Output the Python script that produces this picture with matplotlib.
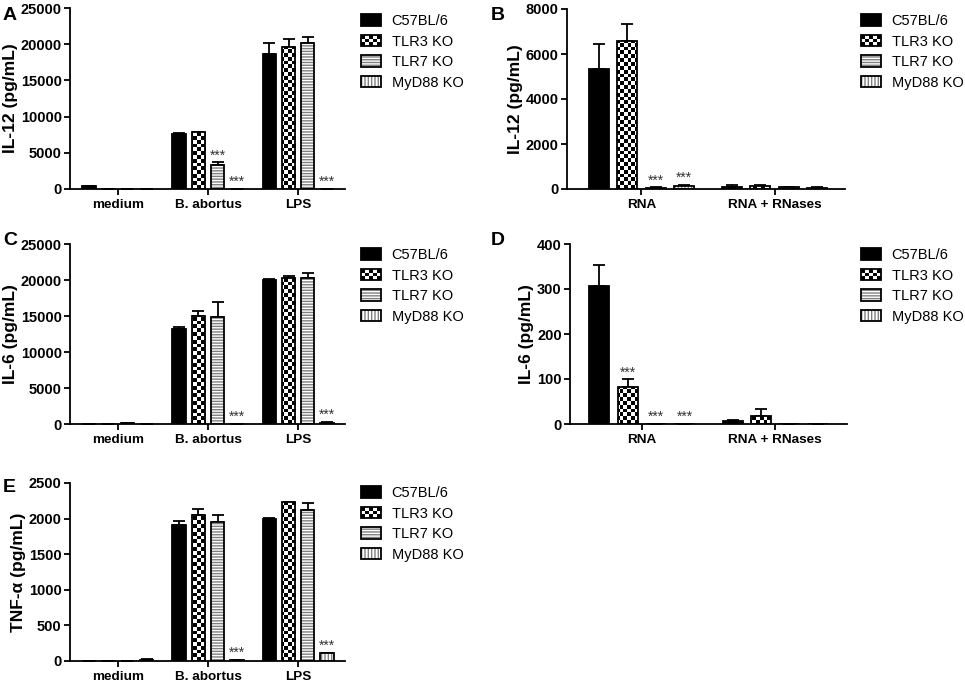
import numpy as np
import matplotlib
matplotlib.use("Agg")
import matplotlib.pyplot as plt
from matplotlib.patches import Patch, Rectangle
from matplotlib.legend_handler import HandlerBase

plt.rcParams['font.family'] = ['Liberation Sans', 'DejaVu Sans']
plt.rcParams['font.weight'] = 'bold'
plt.rcParams['axes.labelweight'] = 'bold'

series = ["C57BL/6", "TLR3 KO", "TLR7 KO", "MyD88 KO"]
groups_bac = ["medium", "B. abortus", "LPS"]
groups_rna = ["RNA", "RNA + RNases"]

# rows = series, cols = groups
il12_bac = [[400, 7600, 18600], [0, 7850, 19600], [0, 3300, 20100], [0, 0, 0]]
il12_bac_err = [[80, 200, 1600], [0, 60, 1050], [0, 380, 850], [0, 0, 0]]
il12_bac_stars = [(2, 1), (3, 1), (3, 2)]

il12_rna = [[5330, 90], [6590, 130], [60, 70], [150, 60]]
il12_rna_err = [[1110, 70], [730, 70], [10, 25], [20, 10]]
il12_rna_stars = [(2, 0), (3, 0)]

il6_bac = [[0, 13150, 20000], [0, 15000, 20320], [100, 14800, 20320], [0, 0, 200]]
il6_bac_err = [[0, 280, 90], [0, 740, 240], [40, 2190, 600], [0, 0, 40]]
il6_bac_stars = [(3, 1), (3, 2)]

il6_rna = [[307, 6], [82, 18], [0, 0], [0, 0]]
il6_rna_err = [[46, 2], [17, 15], [0, 0], [0, 0]]
il6_rna_stars = [(1, 0), (2, 0), (3, 0)]

tnf_bac = [[0, 1906, 1991], [0, 2056, 2229], [0, 1953, 2127], [20, 10, 107]]
tnf_bac_err = [[0, 57, 20], [0, 75, 10], [0, 94, 88], [4, 3, 3]]
tnf_bac_stars = [(3, 1), (3, 2)]

WIDTH = 0.15
STEP = 0.213
LW = 1.3
HATCHES = {2: '------', 3: '|||||'}
HATCH_GRAY = '#808080'
CELL_PX = 3.8

fig = plt.figure(figsize=(9.65, 6.83), dpi=100)


def checker_fill(ax, bar):
    x0, x1 = ax.get_xlim()
    y0, y1 = ax.get_ylim()
    nx = int(round(ax.bbox.width / CELL_PX))
    ny = int(round(ax.bbox.height / CELL_PX))
    board = np.indices((ny, nx)).sum(axis=0) % 2
    im = ax.imshow(board, cmap='gray_r', extent=(x0, x1, y0, y1), aspect='auto',
                   interpolation='nearest', origin='lower', zorder=2)
    im.set_clip_path(bar)


class CheckerHandler(HandlerBase):
    def create_artists(self, legend, orig_handle, xdescent, ydescent, width, height,
                       fontsize, trans):
        nx, ny = 5, 3
        cw, ch = width / nx, height / ny
        arts = [Rectangle((-xdescent, -ydescent), width, height, facecolor='white',
                          edgecolor='none', transform=trans)]
        for i in range(nx):
            for j in range(ny):
                if (i + j) % 2 == 0:
                    arts.append(Rectangle((-xdescent + i * cw, -ydescent + j * ch), cw, ch,
                                          facecolor='black', edgecolor='none', transform=trans))
        arts.append(Rectangle((-xdescent, -ydescent), width, height, facecolor='none',
                              edgecolor='black', lw=LW, transform=trans))
        return arts


def panel(rect, groups, values, errors, stars, ymax, ystep, ylabel, xlim, letter, letter_xy, leg_xy):
    ax = fig.add_axes(rect)
    x = np.arange(len(groups))
    ax.set_xlim(*xlim)
    ax.set_ylim(0, ymax)
    ax.set_yticks(np.arange(0, ymax + 1, ystep))
    ax.set_xticks(x)
    ax.set_xticklabels(groups, fontsize=9.7)
    ax.tick_params(axis='y', labelsize=10.5, length=4, width=LW, pad=2)
    ax.tick_params(axis='x', length=4, width=LW, pad=3)
    for s in ['top', 'right']:
        ax.spines[s].set_visible(False)
    for s in ['left', 'bottom']:
        ax.spines[s].set_linewidth(LW)
    ax.set_ylabel(ylabel, fontsize=12.5, labelpad=2)

    for i in range(len(series)):
        pos = x + (i - 1.5) * STEP
        vals = np.array(values[i], dtype=float)
        errs = np.array(errors[i], dtype=float)
        if i == 0:
            ax.bar(pos, vals, WIDTH, color='black', edgecolor='black', lw=LW, zorder=3)
        elif i == 1:
            bars = ax.bar(pos, vals, WIDTH, facecolor='none', edgecolor='black', lw=LW, zorder=3)
            for b, v in zip(bars, vals):
                if v > 0:
                    checker_fill(ax, b)
        else:
            ax.bar(pos, vals, WIDTH, facecolor='white', edgecolor=HATCH_GRAY,
                   hatch=HATCHES[i], lw=0, zorder=2)
            ax.bar(pos, vals, WIDTH, facecolor='none', edgecolor='black', lw=LW, zorder=3)
        ax.errorbar(pos, vals, yerr=[np.zeros_like(errs), errs], fmt='none', ecolor='black',
                    elinewidth=LW, capsize=4.5, capthick=LW, zorder=1)

    for si, gi in stars:
        top = values[si][gi] + errors[si][gi]
        ax.annotate("***", (x[gi] + (si - 1.5) * STEP, top), xytext=(0, 0),
                    textcoords='offset points', ha='center', va='bottom',
                    fontsize=10, fontweight='normal', color='#333333')

    fig.text(letter_xy[0], letter_xy[1], letter, fontsize=14, fontweight='bold',
             ha='left', va='center')

    tlr3 = Patch(facecolor='white', edgecolor='black')
    handles = [Patch(facecolor='black', edgecolor='black', lw=LW), tlr3]
    for i in (2, 3):
        handles.append((Patch(facecolor='white', edgecolor=HATCH_GRAY, hatch=HATCHES[i], lw=0),
                        Patch(facecolor='none', edgecolor='black', lw=LW)))
    ax.legend(handles, series, handler_map={tlr3: CheckerHandler()},
              loc='upper left', bbox_to_anchor=leg_xy, bbox_transform=fig.transFigure,
              frameon=False, prop={'size': 10.5, 'weight': 'normal'},
              handlelength=1.4, handleheight=0.8, labelspacing=0.45,
              handletextpad=0.7, borderpad=0, borderaxespad=0)
    return ax


W, H = 965.0, 683.0


def rect(left, right, top, bottom):
    return [left / W, 1 - bottom / H, (right - left) / W, (bottom - top) / H]


panel(rect(70, 345, 8, 189), groups_bac, il12_bac, il12_bac_err, il12_bac_stars,
      25000, 5000, "IL-12 (pg/mL)", (-0.53, 2.52), "A", (3 / W, 1 - 15 / H),
      (361 / W, 1 - 14 / H))
panel(rect(567, 845, 9, 189), groups_rna, il12_rna, il12_rna_err, il12_rna_stars,
      8000, 2000, "IL-12 (pg/mL)", (-0.56, 1.53), "B", (491 / W, 1 - 15 / H),
      (861 / W, 1 - 14 / H))
panel(rect(70, 345, 244, 424), groups_bac, il6_bac, il6_bac_err, il6_bac_stars,
      25000, 5000, "IL-6 (pg/mL)", (-0.53, 2.52), "C", (3 / W, 1 - 241 / H),
      (361 / W, 1 - 248 / H))
panel(rect(570, 847, 244, 424), groups_rna, il6_rna, il6_rna_err, il6_rna_stars,
      400, 100, "IL-6 (pg/mL)", (-0.54, 1.54), "D", (491 / W, 1 - 241 / H),
      (861 / W, 1 - 248 / H))
panel(rect(70, 345, 483, 661), groups_bac, tnf_bac, tnf_bac_err, tnf_bac_stars,
      2500, 500, "TNF-\u03b1 (pg/mL)", (-0.53, 2.52), "E", (3 / W, 1 - 488 / H),
      (361 / W, 1 - 486 / H))

fig.savefig("out.png", dpi=100)
